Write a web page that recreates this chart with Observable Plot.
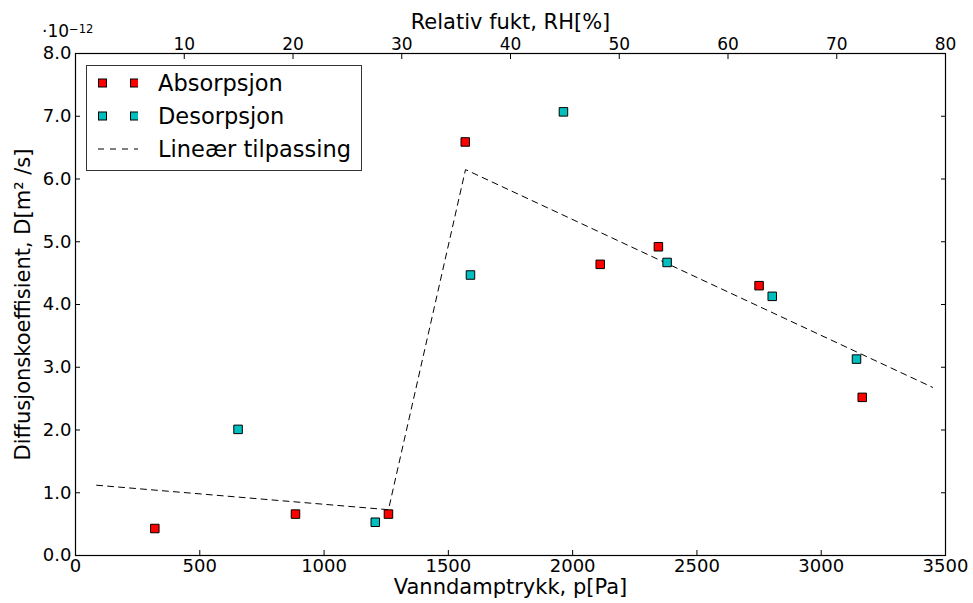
<!DOCTYPE html>
<html>
<head>
<meta charset="utf-8">
<script src="https://cdn.jsdelivr.net/npm/d3@7"></script>
<script src="https://cdn.jsdelivr.net/npm/@observablehq/plot@0.6"></script>
<style>
  html, body { margin: 0; padding: 0; background: #fff; }
  #wrap { position: relative; width: 973px; height: 603px; font-family: "DejaVu Sans", sans-serif; }
  #expo { position: absolute; left: 42px; top: 21px; font-size: 17px; color: #000; }
  #expo sup { font-size: 11.5px; position: relative; top: -4px; vertical-align: baseline; }
  #legend { position: absolute; left: 86px; top: 65px; width: 276px; height: 106px; border: 1.3px solid #333; background: #fff; box-sizing: border-box; }
  .row { position: absolute; left: 0; height: 30px; display: flex; align-items: center; font-size: 22.5px; }
  .row svg { margin-left: 9px; margin-right: 20px; }
</style>
</head>
<body>
<div id="wrap">
  <div id="chart"></div>
  <div id="expo">·10<sup>−12</sup></div>
  <div id="legend"></div>
</div>
<script>
// Data (D in units of 1e-12 m²/s)
const absP = [319, 885, 1259, 1568, 2111, 2345, 2750, 3165];
const absD = [0.43, 0.66, 0.66, 6.59, 4.64, 4.92, 4.30, 2.52];
const desP = [654, 1206, 1589, 1963, 2380, 2803, 3142];
const desD = [2.01, 0.53, 4.47, 7.07, 4.67, 4.13, 3.13];
const fitP = [85, 1259, 1569, 3448];
const fitD = [1.12, 0.73, 6.15, 2.68];
const xTicks = [0, 500, 1000, 1500, 2000, 2500, 3000, 3500];
const yTicks = [0, 1, 2, 3, 4, 5, 6, 7, 8];
const rhTicks = [10, 20, 30, 40, 50, 60, 70, 80];
const rhMax = 80;
const pMax = 3500;

const absData = absP.map((p, i) => ({p, d: absD[i]}));
const desData = desP.map((p, i) => ({p, d: desD[i]}));
const fitData = fitP.map((p, i) => ({p, d: fitD[i]}));

const red = "#ff0000", cyan = "#00bfbf";

const chart = Plot.plot({
  width: 973,
  height: 603,
  marginLeft: 75,
  marginRight: 28,
  marginTop: 53,
  marginBottom: 48,
  style: { fontFamily: "DejaVu Sans, sans-serif", fontSize: "18px", color: "#000", background: "#fff" },
  x: { domain: [0, pMax] },
  y: { domain: [0, 8] },
  marks: [
    Plot.line(fitData, { x: "p", y: "d", stroke: "#000", strokeWidth: 1, strokeDasharray: "6,5" }),
    Plot.dot(absData, { x: "p", y: "d", symbol: "square", r: 4.8, fill: red, stroke: "#000", strokeWidth: 1 }),
    Plot.dot(desData, { x: "p", y: "d", symbol: "square", r: 4.8, fill: cyan, stroke: "#000", strokeWidth: 1 }),
    Plot.frame({ stroke: "#000", strokeWidth: 1.2 }),
    Plot.axisX(xTicks, { anchor: "bottom", tickSize: -5, tickPadding: 9, fontSize: 18,
      tickFormat: d => String(d),
      label: "Vanndamptrykk, p[Pa]", labelAnchor: "center", labelOffset: 38, labelArrow: "none" }),
    Plot.axisX(rhTicks.map(r => r * pMax / rhMax), { anchor: "top", tickSize: -5, tickPadding: 9, fontSize: 17,
      tickFormat: v => String(Math.round(v * rhMax / pMax)),
      label: "Relativ fukt, RH[%]", labelAnchor: "center", labelOffset: 39, labelArrow: "none" }),
    Plot.axisY(yTicks, { anchor: "left", tickSize: -5, tickPadding: 9, fontSize: 18,
      tickFormat: d3.format(".1f"),
      label: "Diffusjonskoeffisient, D[m² /s]", labelAnchor: "center", labelOffset: 60, labelArrow: "none" }),
    Plot.axisY(yTicks, { anchor: "right", tickSize: -5, tickFormat: () => "", label: null })
  ]
});
document.getElementById("chart").appendChild(chart);

// bigger axis label font
chart.querySelectorAll('[aria-label="x-axis label"], [aria-label="y-axis label"]').forEach(g => g.setAttribute("font-size", "21"));
chart.querySelectorAll('[aria-label="x-axis label"] text, [aria-label="y-axis label"] text').forEach(t => t.setAttribute("font-size", "21"));

// legend
const legendItems = [
  { label: "Absorpsjon", type: "sq", color: red },
  { label: "Desorpsjon", type: "sq", color: cyan },
  { label: "Lineær tilpassing", type: "line" }
];
const legend = document.getElementById("legend");
legendItems.forEach((it, i) => {
  const row = document.createElement("div");
  row.className = "row";
  row.style.top = (2 + i * 33) + "px";
  let sym;
  if (it.type === "sq") {
    sym = `<svg width="42" height="12"><rect x="2.5" y="2" width="8" height="8" fill="${it.color}" stroke="#000" stroke-width="1"/><rect x="34.5" y="2" width="8" height="8" fill="${it.color}" stroke="#000" stroke-width="1"/></svg>`;
  } else {
    sym = `<svg width="42" height="12"><line x1="2" y1="6" x2="42" y2="6" stroke="#000" stroke-width="1" stroke-dasharray="6,6"/></svg>`;
  }
  row.innerHTML = sym + `<span>${it.label}</span>`;
  legend.appendChild(row);
});
</script>
</body>
</html>
